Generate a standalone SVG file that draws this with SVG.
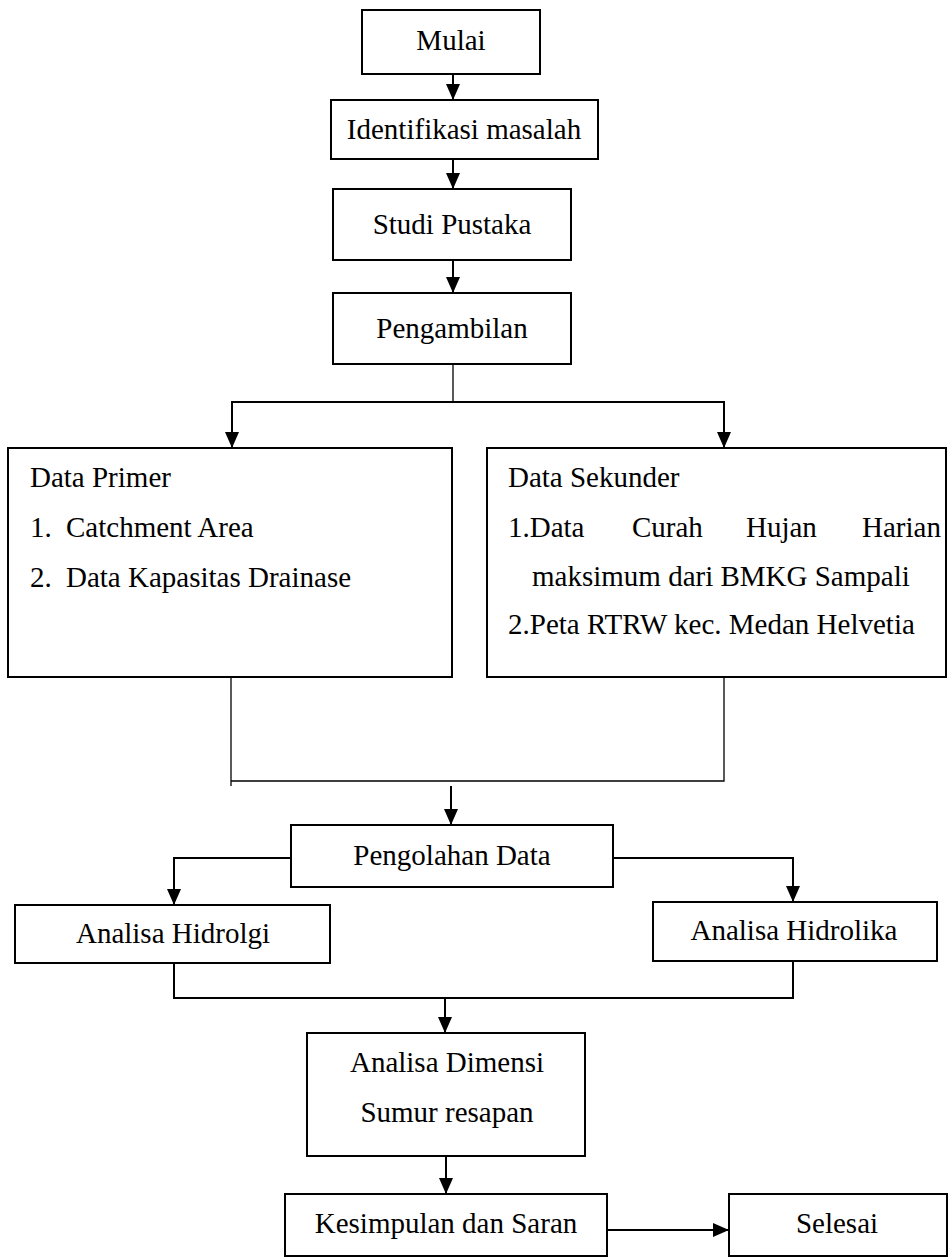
<svg xmlns="http://www.w3.org/2000/svg" width="948" height="1257" viewBox="0 0 948 1257">
<style>
.box{fill:#fff;stroke:#000;stroke-width:2}
.t{font-family:"Liberation Serif","Times New Roman",serif;font-size:29px;fill:#000}
.c{text-anchor:middle}
.ln{fill:none;stroke:#000;stroke-width:2}
.thin{fill:none;stroke:#000;stroke-width:1.3}
</style>
<defs>
<marker id="ah" markerUnits="userSpaceOnUse" markerWidth="16" markerHeight="14" refX="16" refY="7" orient="auto" viewBox="0 0 16 14">
<path d="M0,0 L16,7 L0,14 z" fill="#000"/>
</marker>
</defs>
<rect width="948" height="1257" fill="#fff"/>
<g id="connectors">
<line class="ln" x1="453" y1="74" x2="453" y2="100" marker-end="url(#ah)"/>
<line class="ln" x1="453" y1="159" x2="453" y2="189" marker-end="url(#ah)"/>
<line class="ln" x1="453" y1="260" x2="453" y2="293" marker-end="url(#ah)"/>
<line class="thin" x1="453" y1="364" x2="453" y2="402"/>
<polyline class="ln" points="232,448 232,402 724,402 724,448" marker-end="url(#ah)"/>
<line class="ln" x1="232" y1="402" x2="232" y2="448" marker-end="url(#ah)"/>
<polyline class="thin" points="231,677 231,786"/>
<polyline class="thin" points="231,781 724,781 724,677"/>
<line class="ln" x1="451" y1="786" x2="451" y2="825" marker-end="url(#ah)"/>
<polyline class="ln" points="291,858 174,858 174,905" marker-end="url(#ah)"/>
<polyline class="ln" points="613,858 793,858 793,902" marker-end="url(#ah)"/>
<polyline class="ln" points="174,963 174,998 793,998 793,961"/>
<line class="ln" x1="445" y1="998" x2="445" y2="1033" marker-end="url(#ah)"/>
<line class="ln" x1="446" y1="1156" x2="446" y2="1194" marker-end="url(#ah)"/>
<line class="ln" x1="607" y1="1230" x2="729" y2="1230" marker-end="url(#ah)"/>
</g>
<g id="mulai"><rect class="box" x="362" y="10" width="178" height="64"/><text class="t c" x="451" y="50">Mulai</text></g>
<g id="identifikasi"><rect class="box" x="331" y="100" width="267" height="59"/><text class="t c" x="464" y="139">Identifikasi masalah</text></g>
<g id="studi"><rect class="box" x="333" y="189" width="238" height="71"/><text class="t c" x="452" y="234">Studi Pustaka</text></g>
<g id="pengambilan"><rect class="box" x="333" y="293" width="238" height="71"/><text class="t c" x="452" y="338">Pengambilan</text></g>
<g id="primer"><rect class="box" x="8" y="448" width="444" height="229"/>
<text class="t" x="30" y="487">Data Primer</text>
<text class="t" x="30" y="537">1.</text><text class="t" x="66" y="537">Catchment Area</text>
<text class="t" x="30" y="587">2.</text><text class="t" x="66" y="587">Data Kapasitas Drainase</text>
</g>
<g id="sekunder"><rect class="box" x="487" y="448" width="459" height="229"/>
<text class="t" x="508" y="487">Data Sekunder</text>
<text class="t" y="537"><tspan x="508">1.Data</tspan><tspan x="632">Curah</tspan><tspan x="746">Hujan</tspan><tspan x="862">Harian</tspan></text>
<text class="t" x="532" y="586">maksimum dari BMKG Sampali</text>
<text class="t" x="508" y="634">2.Peta RTRW kec. Medan Helvetia</text>
</g>
<g id="pengolahan"><rect class="box" x="291" y="825" width="322" height="62"/><text class="t c" x="452" y="865">Pengolahan Data</text></g>
<g id="hidrologi"><rect class="box" x="15" y="905" width="315" height="58"/><text class="t c" x="173" y="943">Analisa Hidrolgi</text></g>
<g id="hidrolika"><rect class="box" x="653" y="902" width="284" height="59"/><text class="t c" x="794" y="940">Analisa Hidrolika</text></g>
<g id="dimensi"><rect class="box" x="307" y="1033" width="278" height="123"/>
<text class="t c" x="447" y="1072">Analisa Dimensi</text>
<text class="t c" x="447" y="1122">Sumur resapan</text></g>
<g id="kesimpulan"><rect class="box" x="285" y="1194" width="322" height="62"/><text class="t c" x="446" y="1233">Kesimpulan dan Saran</text></g>
<g id="selesai"><rect class="box" x="729" y="1194" width="218" height="62"/><text class="t c" x="837" y="1233">Selesai</text></g>
</svg>
